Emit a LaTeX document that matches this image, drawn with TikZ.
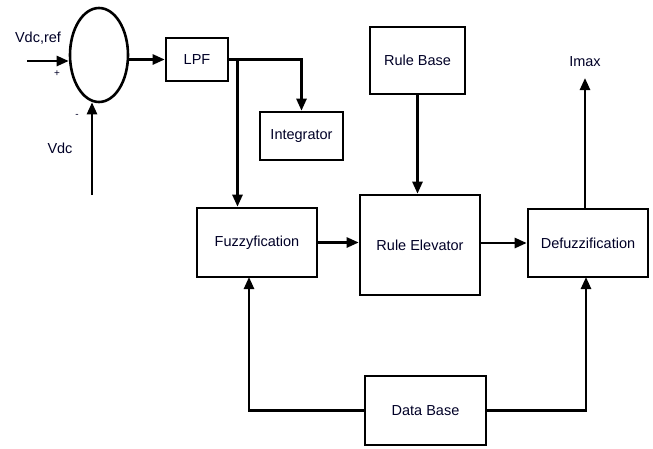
\documentclass[tikz,border=0pt]{standalone}
\usepackage{fontspec}
\setmainfont{Liberation Sans}
\usetikzlibrary{shapes.geometric,arrows.meta}
\begin{document}
\begin{tikzpicture}[x=1pt,y=-1pt,
  blk/.style={draw,line width=2.6pt,inner sep=0pt,font=\fontsize{14.5}{16}\selectfont,text=black!85!blue},
  conn/.style={line width=2.5pt},
  arr/.style={conn,-{Triangle[length=12pt,width=10pt]}},
  lbl/.style={inner sep=0pt,font=\fontsize{14.5}{16}\selectfont,text=black!85!blue}]
\useasboundingbox (0,0) rectangle (653,448);
\node[draw,ellipse,line width=2.6pt,minimum width=58pt,minimum height=94pt,inner sep=0pt] (sum) at (99,55) {};
\node[blk,minimum width=62pt,minimum height=43pt] (lpf) at (197,59.5) {LPF};
\node[blk,minimum width=83pt,minimum height=48pt] (integ) at (301.5,136) {Integrator};
\node[blk,minimum width=95pt,minimum height=67pt] (rb) at (417.5,60.5) {Rule Base};
\node[blk,minimum width=120pt,minimum height=69pt] (fuzz) at (257,242.5) {Fuzzyfication};
\node[blk,minimum width=120pt,minimum height=100pt] (re) at (420,245) {Rule Elevator};
\node[blk,minimum width=120pt,minimum height=68pt] (defuzz) at (588,243) {Defuzzification};
\node[blk,minimum width=121pt,minimum height=69pt] (db) at (425.5,410.5) {Data Base};
\node[lbl] (lref) at (38,38) {Vdc,ref};
\node[lbl] (lplus) at (57,74) {\fontsize{10}{10}\selectfont +};
\node[lbl] (lminus) at (77,116) {\fontsize{10}{10}\selectfont -};
\node[lbl] (lvdc) at (60,148) {Vdc};
\node[lbl] (limax) at (585,62) {Imax};
\coordinate (in) at (27,61);
\coordinate (vdcin) at (92,195);
\coordinate (br) at (237.5,59.5);
\coordinate (imax) at (585,78);
\coordinate (fl) at (249,277);
\coordinate (fr) at (586,277);
\draw[arr] (in) -- (in -| sum.west);
\draw[arr] (vdcin) -- ([yshift=1pt]vdcin |- sum.south);
\draw[arr] (lpf.west -| sum.east) -- (lpf.west);
\draw[arr] (lpf.east) -| (integ.north);
\draw[arr] (br) -- (br |- fuzz.north);
\draw[arr] (rb.south) -- (rb.south |- re.north);
\draw[arr] (fuzz.east) -- (fuzz.east -| re.west);
\draw[arr] (defuzz.west -| re.east) -- (defuzz.west);
\draw[arr] (imax |- defuzz.north) -- (imax);
\draw[arr] (db.west) -| (fl);
\draw[arr] (db.east) -| (fr);
\end{tikzpicture}
\end{document}
